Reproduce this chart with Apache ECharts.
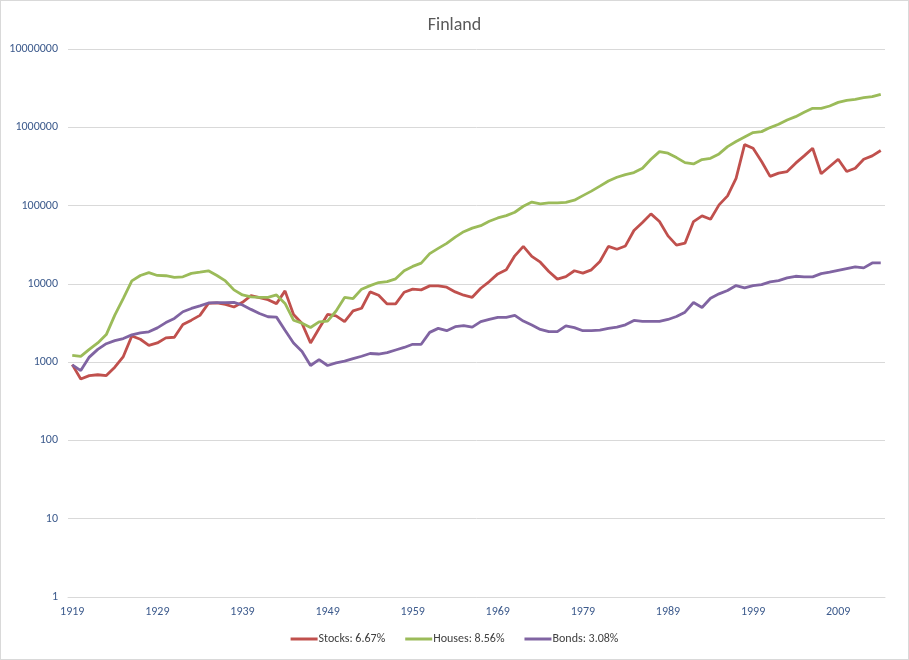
<!DOCTYPE html>
<html>
<head>
<meta charset="utf-8">
<script src="https://cdn.jsdelivr.net/npm/echarts@6/dist/echarts.min.js"></script>
<style>
html,body{margin:0;padding:0;background:#fff;}
#c{position:absolute;left:0;top:0;width:907px;height:658px;border:1px solid #d9d9d9;}
</style>
</head>
<body>
<div id="c"></div>
<script>
var firstYear = 1919, lastYear = 2014;
var years = [];
for (var y = firstYear; y <= lastYear; y++) years.push(String(y));

var stocks = [
 930, 609, 673, 690, 673, 863, 1180, 2160, 1960, 1640,
 1760, 2040, 2080, 3020, 3440, 3960, 5630, 5700, 5470, 5060,
 5810, 7080, 6680, 6280, 5590, 8130, 4070, 3120, 1760, 2690,
 4070, 3900, 3290, 4510, 4880, 7890, 7160, 5540, 5540, 7810,
 8550, 8380, 9420, 9420, 9060, 7890, 7160, 6740, 8790, 10700,
 13400, 15100, 22800, 30100, 22400, 18900, 14400, 11500, 12400, 14700,
 13700, 15100, 19300, 30100, 27700, 30500, 48000, 60700, 78300, 62500,
 41000, 31200, 33100, 62500, 73800, 67000, 102000, 133000, 223000, 600000,
 540000, 365000, 236000, 260000, 272000, 348000, 431000, 540000, 255000, 316000,
 391000, 272000, 300000, 391000, 431000, 505000
];
var houses = [
 1219, 1183, 1455, 1760, 2250, 3990, 6540, 10900, 12800, 13900,
 12800, 12700, 12070, 12300, 13600, 14100, 14700, 12800, 10900, 8380,
 7220, 6800, 6720, 6720, 7220, 5630, 3430, 3150, 2770, 3270,
 3340, 4500, 6700, 6490, 8550, 9500, 10400, 10700, 11600, 14700,
 16700, 18400, 24300, 28400, 32900, 39600, 46400, 51500, 55400, 63000,
 69500, 74400, 82200, 98000, 111000, 105000, 108000, 108000, 110000, 117000,
 134000, 153000, 177000, 206000, 230000, 249000, 264000, 300000, 390000, 489000,
 466000, 410000, 354000, 340000, 387000, 402000, 457000, 566000, 657000, 750000,
 855000, 880000, 991000, 1092000, 1240000, 1367000, 1552000, 1746000, 1746000, 1870000,
 2080000, 2207000, 2273000, 2388000, 2457000, 2630000
];
var bonds = [
 924, 780, 1160, 1455, 1720, 1880, 2000, 2230, 2370, 2440,
 2740, 3200, 3620, 4400, 4850, 5230, 5700, 5750, 5750, 5800,
 5370, 4720, 4190, 3800, 3760, 2560, 1760, 1370, 906, 1080,
 906, 980, 1030, 1110, 1190, 1290, 1270, 1320, 1430, 1540,
 1690, 1690, 2400, 2700, 2520, 2840, 2920, 2800, 3290, 3520,
 3740, 3740, 3960, 3350, 2980, 2620, 2450, 2450, 2900, 2760,
 2520, 2520, 2570, 2700, 2800, 3000, 3410, 3310, 3310, 3310,
 3510, 3830, 4350, 5780, 4990, 6560, 7450, 8220, 9520, 8900,
 9520, 9800, 10600, 11000, 11900, 12500, 12300, 12300, 13500, 14100,
 14900, 15700, 16500, 16000, 18500, 18500
];
var seriesNames = ['Stocks: 6.67%', 'Houses: 8.56%', 'Bonds: 3.08%'];
var titleText = 'Finland';

var font = 'Carlito, "Liberation Sans Narrow", "Liberation Sans", Arial, sans-serif';
var chart = echarts.init(document.getElementById('c'));
function mk(name, data, color) {
  return {
    name: name, type: 'line', data: data, symbol: 'none', smooth: false,
    lineStyle: {color: color, width: 2.8}, itemStyle: {color: color}
  };
}
chart.setOption({
  animation: false,
  textStyle: {fontFamily: font},
  title: {
    text: titleText, left: 'center', top: 10,
    textStyle: {fontSize: 18, fontWeight: 'normal', color: '#595959', fontFamily: font}
  },
  legend: {
    bottom: 9, left: 'center', itemGap: 20, itemWidth: 27, itemHeight: 3, icon: 'rect',
    textStyle: {fontSize: 12, color: '#404040', fontFamily: font, padding: [0,0,0,-4]},
    data: seriesNames
  },
  grid: {left: 67, right: 23, top: 48, bottom: 62, containLabel: false},
  xAxis: {
    type: 'category', data: years, boundaryGap: true,
    axisLine: {lineStyle: {color: '#d9d9d9'}},
    axisTick: {show: false},
    axisLabel: {interval: 9, color: '#3c5a8c', fontSize: 12, margin: 9, fontFamily: font},
    splitLine: {show: false}
  },
  yAxis: {
    type: 'log', logBase: 10, min: 1, max: 10000000,
    axisLine: {show: false}, axisTick: {show: false},
    axisLabel: {color: '#3c5a8c', fontSize: 12, margin: 10, fontFamily: font,
      formatter: function (v) { return String(Math.round(v)); }},
    splitLine: {lineStyle: {color: '#d9d9d9', width: 1}}
  },
  series: [
    mk(seriesNames[0], stocks, '#C0504D'),
    mk(seriesNames[1], houses, '#9BBB59'),
    mk(seriesNames[2], bonds, '#8064A2')
  ]
});
</script>
</body>
</html>
